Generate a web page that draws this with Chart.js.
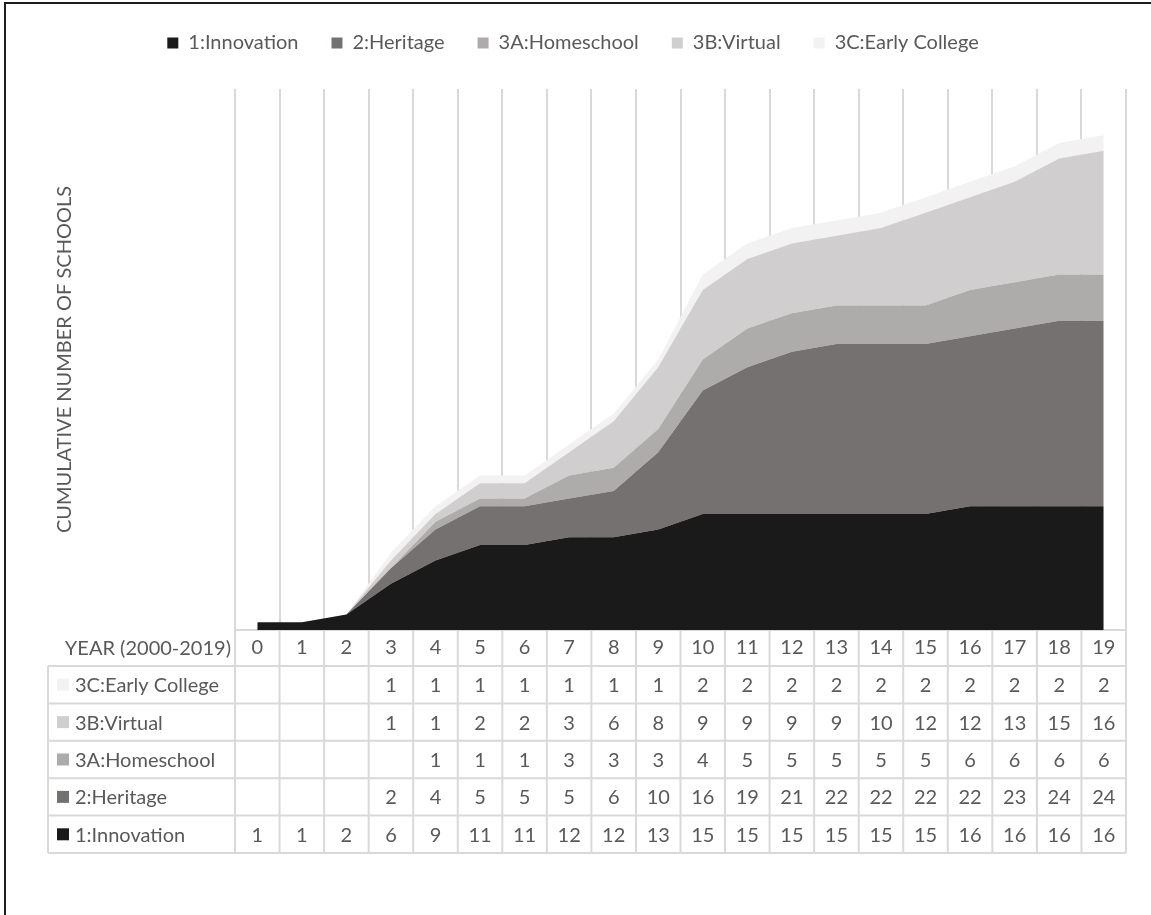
<!DOCTYPE html>
<html>
<head>
<meta charset="utf-8">
<script src="https://cdn.jsdelivr.net/npm/chart.js@4.4.1/dist/chart.umd.min.js"></script>
<style>
  html, body { margin: 0; padding: 0; background: #fff; overflow: hidden; }
  #wrap { position: relative; width: 1151px; height: 915px; }
  #frame { position: absolute; left: 4px; top: 2px; width: 1400px; height: 1200px;
           border-left: 2px solid #1e1e1e; border-top: 2px solid #1e1e1e; pointer-events: none; }
</style>
</head>
<body>
<div id="wrap">
  <canvas id="schoolsChart" width="1151" height="915"></canvas>
  <div id="frame"></div>
</div>
<script>
// years since 2000
const years = ["0", "1", "2", "3", "4", "5", "6", "7", "8", "9", "10", "11", "12", "13", "14", "15", "16", "17", "18", "19"];

// cumulative schools per model (null = blank cell in the table)
const innovation   = [1, 1, 2, 6, 9, 11, 11, 12, 12, 13, 15, 15, 15, 15, 15, 15, 16, 16, 16, 16];
const heritage     = [null, null, null, 2, 4, 5, 5, 5, 6, 10, 16, 19, 21, 22, 22, 22, 22, 23, 24, 24];
const homeschool   = [null, null, null, null, 1, 1, 1, 3, 3, 3, 4, 5, 5, 5, 5, 5, 6, 6, 6, 6];
const virtual      = [null, null, null, 1, 1, 2, 2, 3, 6, 8, 9, 9, 9, 9, 10, 12, 12, 13, 15, 16];
const earlyCollege = [null, null, null, 1, 1, 1, 1, 1, 1, 1, 2, 2, 2, 2, 2, 2, 2, 2, 2, 2];

const seriesNames  = ["1:Innovation", "2:Heritage", "3A:Homeschool", "3B:Virtual", "3C:Early College"];
const seriesColors = ["#1a1a1a", "#757171", "#aeabab", "#d0cece", "#f2f2f2"];

const textColor = "#595959";
const gridColor = "#d9d9d9";
const fontFamily = "Lato, 'Open Sans', sans-serif";
const fontSize = 20;

const allSeries = [innovation, heritage, homeschool, virtual, earlyCollege];

const datasets = allSeries.map((values, i) => ({
  label: seriesNames[i],
  data: values.map((v) => (v === null ? 0 : v)),
  backgroundColor: seriesColors[i],
  borderColor: seriesColors[i],
  borderWidth: 0,
  pointRadius: 0,
  tension: 0,
  fill: i === 0 ? "origin" : "-1",
}));

// white background
const bgPlugin = {
  id: "bg",
  beforeDraw(chart) {
    const ctx = chart.ctx;
    ctx.save();
    ctx.fillStyle = "#fff";
    ctx.fillRect(0, 0, chart.width, chart.height);
    ctx.restore();
  },
};

// extra room between the legend and the plot
const legendGap = {
  id: "legendGap",
  beforeInit(chart) {
    const origFit = chart.legend.fit;
    chart.legend.fit = function () {
      origFit.bind(chart.legend)();
      this.height += 26;
    };
  },
};

// data table under the plot, columns follow the x scale
const tablePlugin = {
  id: "dataTable",
  afterDraw(chart) {
    const ctx = chart.ctx;
    const x = chart.scales.x;
    const top = chart.chartArea.bottom;
    const headerH = 36;
    const rowH = 37.4;
    const tableLeft = 48;
    const half = (x.getPixelForValue(1) - x.getPixelForValue(0)) / 2;
    const rowOrder = [4, 3, 2, 1, 0]; // top row is 3C
    const bottom = top + headerH + rowH * rowOrder.length;

    ctx.save();
    ctx.strokeStyle = gridColor;
    ctx.lineWidth = 2;

    // column lines
    for (let i = 0; i <= years.length; i++) {
      const px = i < years.length ? x.getPixelForValue(i) - half : x.getPixelForValue(years.length - 1) + half;
      ctx.beginPath();
      ctx.moveTo(px, top);
      ctx.lineTo(px, bottom);
      ctx.stroke();
    }
    // left edge of label column
    ctx.beginPath();
    ctx.moveTo(tableLeft, top + headerH);
    ctx.lineTo(tableLeft, bottom);
    ctx.stroke();
    // row lines
    for (let r = 0; r <= rowOrder.length; r++) {
      const py = top + headerH + rowH * r;
      ctx.beginPath();
      ctx.moveTo(tableLeft, py);
      ctx.lineTo(x.right, py);
      ctx.stroke();
    }

    ctx.font = fontSize + "px " + fontFamily;
    ctx.fillStyle = textColor;
    ctx.textBaseline = "middle";

    // header label
    ctx.textAlign = "right";
    ctx.fillText("YEAR (2000-2019)", x.left - 4, top + headerH / 2 + 1);

    rowOrder.forEach((s, r) => {
      const cy = top + headerH + rowH * r + rowH / 2;
      ctx.fillStyle = seriesColors[s];
      ctx.fillRect(57, cy - 6, 12, 12);
      ctx.fillStyle = textColor;
      ctx.textAlign = "left";
      ctx.fillText(seriesNames[s], 75, cy + 1);
      ctx.textAlign = "center";
      allSeries[s].forEach((v, i) => {
        if (v !== null) ctx.fillText(String(v), x.getPixelForValue(i), cy + 1);
      });
    });
    ctx.restore();
  },
};

new Chart(document.getElementById("schoolsChart"), {
  type: "line",
  data: { labels: years, datasets: datasets },
  plugins: [bgPlugin, legendGap, tablePlugin],
  options: {
    responsive: false,
    animation: false,
    layout: { padding: { left: 20, right: 25, top: 0, bottom: 249 } },
    plugins: {
      tooltip: { enabled: false },
      legend: {
        position: "top",
        labels: {
          color: textColor,
          font: { family: fontFamily, size: fontSize },
          boxWidth: 11,
          boxHeight: 11,
          padding: 33,
        },
      },
    },
    scales: {
      x: {
        offset: true,
        grid: { offset: true, color: gridColor, lineWidth: 2, drawTicks: false },
        border: { color: gridColor, width: 2 },
        ticks: { color: textColor, font: { family: fontFamily, size: fontSize }, padding: 6, maxRotation: 0 },
      },
      y: {
        stacked: true,
        min: 0,
        max: 70,
        grid: { display: false, drawTicks: false },
        border: { display: false },
        ticks: { display: false },
        title: {
          display: true,
          text: "CUMULATIVE NUMBER OF SCHOOLS",
          color: textColor,
          font: { family: fontFamily, size: fontSize },
          padding: { top: 33, bottom: 158 },
        },
      },
    },
  },
});
</script>
</body>
</html>
